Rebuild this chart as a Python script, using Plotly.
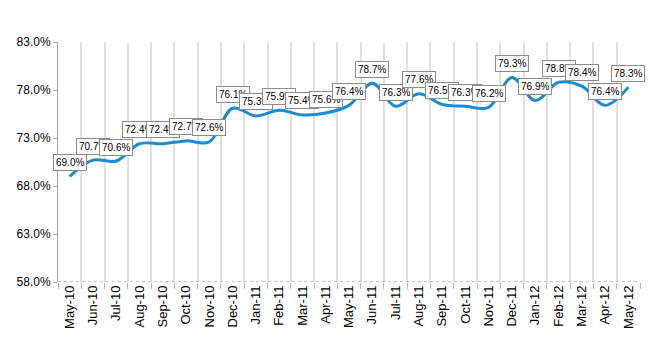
import plotly.graph_objects as go

months = ["May-10","Jun-10","Jul-10","Aug-10","Sep-10","Oct-10","Nov-10","Dec-10",
          "Jan-11","Feb-11","Mar-11","Apr-11","May-11","Jun-11","Jul-11","Aug-11",
          "Sep-11","Oct-11","Nov-11","Dec-11","Jan-12","Feb-12","Mar-12","Apr-12","May-12"]
values = [69.0,70.7,70.6,72.4,72.4,72.7,72.6,76.1,
          75.3,75.9,75.4,75.6,76.4,78.7,76.3,77.6,
          76.5,76.3,76.2,79.3,76.9,78.8,78.4,76.4,78.3]
y_ticks = [58.0,63.0,68.0,73.0,78.0,83.0]

FONT = "Liberation Sans"

fig = go.Figure()
fig.add_trace(go.Scatter(
    x=months, y=values, mode="lines",
    line=dict(color="#1a8bd4", width=3, shape="spline", smoothing=1.0),
    hoverinfo="skip", showlegend=False))

for m, v in zip(months, values):
    fig.add_annotation(
        x=m, y=v, text=f"{v:.1f}%", showarrow=False, yshift=14,
        bgcolor="white", bordercolor="#8c8c8c", borderwidth=1, borderpad=2,
        font=dict(family=FONT, size=10, color="black"))

fig.update_layout(
    width=650, height=350,
    margin=dict(l=58, r=10, t=42, b=68),
    paper_bgcolor="white", plot_bgcolor="white",
    font=dict(family=FONT, color="black"),
    xaxis=dict(
        type="category", categoryorder="array", categoryarray=months,
        range=[-0.5, len(months) - 0.5],
        tickson="boundaries", showgrid=True, gridcolor="#e0e0e0", gridwidth=2,
        ticks="outside", ticklen=6, tickcolor="#b8b8b8",
        tickangle=-90, tickfont=dict(size=13, family=FONT),
        showline=False, zeroline=False, fixedrange=True),
    yaxis=dict(
        range=[58, 83], tickvals=y_ticks,
        ticktext=[f"{t:.1f}%" for t in y_ticks],
        showgrid=False, zeroline=False,
        showline=True, linecolor="#a8a8a8", linewidth=1,
        ticks="outside", ticklen=4, tickcolor="#a8a8a8",
        tickfont=dict(size=12, family=FONT), fixedrange=True),
)
fig.add_shape(type="line", xref="paper", yref="y", x0=0, x1=1, y0=58, y1=58,
              line=dict(color="#8c8c8c", width=1, dash="dot"))

fig.write_html("out.html")
